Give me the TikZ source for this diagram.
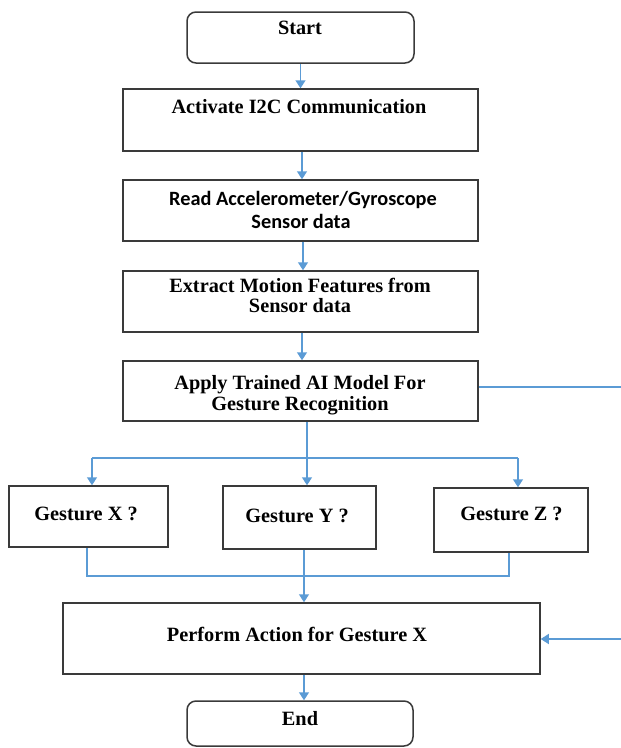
\documentclass[tikz,border=0pt]{standalone}
\usepackage{fontspec}
\setmainfont{Liberation Serif}
\newfontfamily\calibfont{Carlito}
\usetikzlibrary{arrows.meta}
\definecolor{flowblue}{HTML}{5B9BD5}
\definecolor{boxline}{HTML}{3A3A3A}
\tikzset{
  box/.style={draw=boxline, line width=1.5pt, rectangle, inner sep=0pt},
  term/.style={box, rounded corners=9pt},
  txt/.style={anchor=base, inner sep=0pt, font=\fontsize{20.3}{24}\selectfont\bfseries},
  stxt/.style={anchor=base, inner sep=0pt, font=\fontsize{20.3}{24}\selectfont\calibfont\bfseries},
  link/.style={draw=flowblue, line width=1.5pt},
  flow/.style={link, -{Triangle[width=10pt,length=8pt]}},
}
\begin{document}
\begin{tikzpicture}[x=1pt,y=-1pt]
\useasboundingbox (0,0) rectangle (621,748);

% boxes
\node[term, minimum width=227pt, minimum height=51pt] (start) at (300.5,37.5) {};
\node[box, minimum width=355pt, minimum height=62pt] (act) at (300.5,120) {};
\node[box, minimum width=355pt, minimum height=61pt] (read) at (300.5,210.5) {};
\node[box, minimum width=355pt, minimum height=61pt] (extr) at (300.5,301.5) {};
\node[box, minimum width=355pt, minimum height=60pt] (apply) at (300.5,391) {};
\node[box, minimum width=159pt, minimum height=61pt] (gx) at (88.5,516.5) {};
\node[box, minimum width=153pt, minimum height=63pt] (gy) at (299.5,517.5) {};
\node[box, minimum width=154pt, minimum height=64pt] (gz) at (511,520) {};
\node[box, minimum width=477pt, minimum height=71pt] (perf) at (301.5,638.5) {};
\node[term, minimum width=226pt, minimum height=45pt] (end) at (300,723.5) {};

% labels
\node[txt] (startT) at (300,34) {Start};
\node[txt] (actT) at (299,113) {Activate I2C Communication};
\node[stxt] (readT1) at (303,205) {Read Accelerometer/Gyroscope};
\node[stxt] (readT2) at (301,228) {Sensor data};
\node[txt] (extrT1) at (300,292) {Extract Motion Features from};
\node[txt] (extrT2) at (300,312) {Sensor data};
\node[txt] (applyT1) at (300,389) {Apply Trained AI Model For};
\node[txt] (applyT2) at (300,410) {Gesture Recognition};
\node[txt] (gxT) at (86,520) {Gesture X ?};
\node[txt] (gyT) at (297,522) {Gesture Y ?};
\node[txt] (gzT) at (511.5,520) {Gesture Z ?};
\node[txt] (perfT) at (297,641) {Perform Action for Gesture X};
\node[txt] (endT) at (300,725) {End};

% junction points
\coordinate (split) at (307,458);
\coordinate (merge) at (304,576);
\coordinate (outA) at (621,387);
\coordinate (inP) at (621,639);

% main chain
\draw[flow] (start.south) -- (act.north);
\draw[flow] ([xshift=1.5pt]act.south) -- ([xshift=1.5pt]read.north);
\draw[flow] ([xshift=2.5pt]read.south) -- ([xshift=2.5pt]extr.north);
\draw[flow] ([xshift=1.5pt]extr.south) -- ([xshift=1.5pt]apply.north);

% branch to gestures
\draw[link] (apply.south -| split) -- (split);
\draw[link] ([xshift=3.5pt]gx.north |- split) -- ([xshift=7pt]gz.north |- split);
\draw[flow] ([xshift=3.5pt]gx.north |- split) -- ([xshift=3.5pt]gx.north);
\draw[flow] (split) -- (split |- gy.north);
\draw[flow] ([xshift=7pt]gz.north |- split) -- ([xshift=7pt]gz.north);

% merge to action
\draw[link] ([xshift=-1.5pt]gx.south) |- (merge) -| ([xshift=-2pt]gz.south);
\draw[flow] (gy.south -| merge) -- (perf.north -| merge);

% side path
\draw[link] (apply.east |- outA) -- (outA);
\draw[flow] (inP) -- (perf.east |- inP);

% final
\draw[flow] ([xshift=2.5pt]perf.south) -- ([xshift=2.5pt]perf.south |- end.north);
\end{tikzpicture}
\end{document}
